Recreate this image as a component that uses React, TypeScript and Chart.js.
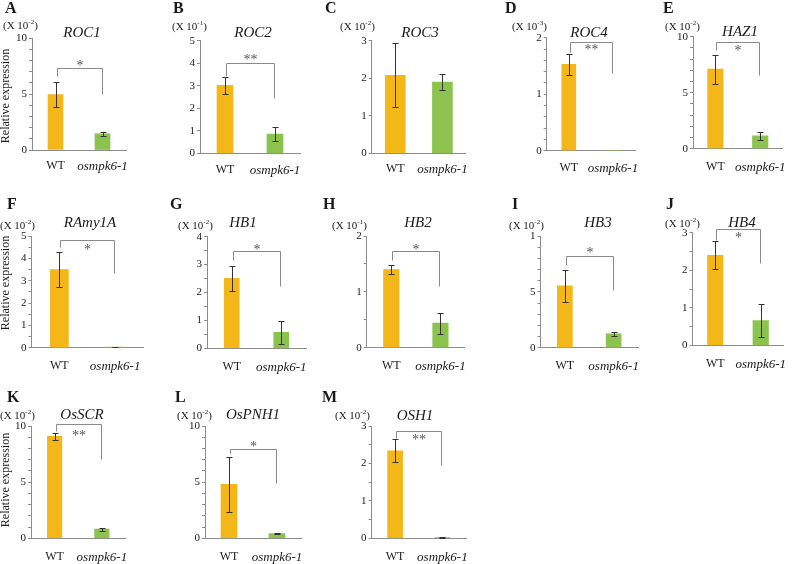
import React, { useEffect, useRef } from 'react';
import { Chart, registerables } from 'chart.js';

Chart.register(...registerables);

// ---------------- DATA ----------------
const categories = ['WT', 'osmpk6-1'];
const panelLetters = ['A', 'B', 'C', 'D', 'E', 'F', 'G', 'H', 'I', 'J', 'K', 'L', 'M'];
const geneNames = ['ROC1', 'ROC2', 'ROC3', 'ROC4', 'HAZ1', 'RAmy1A', 'HB1', 'HB2', 'HB3', 'HB4', 'OsSCR', 'OsPNH1', 'OSH1'];
const exponents = ['-2', '-1', '-2', '-3', '-2', '-2', '-2', '-1', '-2', '-2', '-2', '-2', '-2'];
const yMax = [10, 5, 3, 2, 10, 5, 4, 2, 10, 3, 10, 10, 3];
const majorStep = [5, 1, 1, 1, 5, 1, 1, 1, 5, 1, 5, 5, 1];
const minorStep = [1, 1, 1, 0.2, 1, 0.5, 0.5, 0.5, 1, 0.5, 1, 1, 0.5];
const topTickLabel = ['10', '5', '3', '2', '10', '5', '4', '2', '1', '3', '10', '10', '3'];
const wtMean = [4.95, 3.02, 2.08, 1.53, 7.1, 3.5, 2.51, 1.4, 5.55, 2.4, 9.07, 4.8, 2.34];
const wtErr = [1.15, 0.39, 0.85, 0.19, 1.3, 0.8, 0.45, 0.075, 1.45, 0.37, 0.33, 2.45, 0.31];
const mutMean = [1.45, 0.85, 1.9, 0, 1.15, 0.03, 0.57, 0.44, 1.25, 0.66, 0.81, 0.42, 0.02];
const mutErr = [0.17, 0.32, 0.21, 0, 0.37, 0.02, 0.42, 0.19, 0.18, 0.44, 0.15, 0.07, 0.02];
const significance = ['*', '**', '', '**', '*', '*', '*', '*', '*', '*', '**', '*', '**'];
const bracketTop = [7.32, 4.0, null, 1.93, 9.5, 4.82, 3.49, 1.73, 8.21, 3.09, 10.15, 7.93, 2.87];
const bracketLeftEnd = [6.61, 3.43, null, 1.75, 8.81, 4.52, 3.17, 1.57, 7.4, 2.81, 9.55, 7.62, 2.67];
const bracketRightEnd = [5.0, 2.44, null, 1.37, 6.58, 3.33, 2.23, 1.1, 5.17, 2.18, 7.03, 4.95, 1.97];
const yAxisTitle = 'Relative expression';
const showYTitle = [true, false, false, false, false, true, false, false, false, false, true, false, false];

// ---------------- LAYOUT (positions / sizes) ----------------
type L = {
  ax: number; top: number; bottom: number; right: number; barW: number; xPad: number;
  letter: [number, number]; exp: [number, number]; title: [number, number]; starDy: number; yTitle: [number, number];
};
const layout: L[] = [
  { ax: 32, top: 38, bottom: 150, right: 126, barW: 15, xPad: 9, letter: [5, 9], exp: [3, 26], title: [82, 33], starDy: -5, yTitle: [6, 96] },
  { ax: 200, top: 40.7, bottom: 153.3, right: 300, barW: 16, xPad: 9, letter: [173, 9], exp: [172, 27], title: [253, 33], starDy: -6, yTitle: [0, 0] },
  { ax: 371.7, top: 40.7, bottom: 153.3, right: 466, barW: 20, xPad: 8, letter: [325, 9], exp: [340, 27], title: [420, 33], starDy: 0, yTitle: [0, 0] },
  { ax: 546.7, top: 37.7, bottom: 150.7, right: 635, barW: 14, xPad: 10, letter: [505, 9], exp: [512, 27], title: [589, 33], starDy: 5, yTitle: [0, 0] },
  { ax: 693, top: 36.7, bottom: 148.7, right: 786, barW: 15.5, xPad: 11, letter: [663, 9], exp: [665, 27], title: [740, 32], starDy: 5.4, yTitle: [0, 0] },
  { ax: 31.5, top: 236, bottom: 347.7, right: 143, barW: 18, xPad: 11, letter: [7, 205], exp: [0, 226], title: [90, 223], starDy: 6.7, yTitle: [6, 283] },
  { ax: 207, top: 236.7, bottom: 348.3, right: 306, barW: 15, xPad: 11, letter: [170, 205], exp: [178, 226], title: [243, 223], starDy: -4.3, yTitle: [0, 0] },
  { ax: 366.7, top: 236, bottom: 347.7, right: 465, barW: 15.5, xPad: 11, letter: [323, 205], exp: [332, 226], title: [418, 223], starDy: -4.3, yTitle: [0, 0] },
  { ax: 540.5, top: 236, bottom: 347.7, right: 638, barW: 15, xPad: 11, letter: [512, 205], exp: [509, 226], title: [598, 223], starDy: -6, yTitle: [0, 0] },
  { ax: 692.5, top: 232.7, bottom: 345.3, right: 788, barW: 15.5, xPad: 11, letter: [666, 205], exp: [665, 224], title: [742, 223], starDy: 5.7, yTitle: [0, 0] },
  { ax: 31, top: 426, bottom: 538.3, right: 125.5, barW: 14.5, xPad: 11, letter: [7, 398], exp: [0, 416], title: [82, 415], starDy: 8.4, yTitle: [6, 480] },
  { ax: 205, top: 426, bottom: 538.3, right: 301, barW: 16, xPad: 11, letter: [175, 398], exp: [177, 416], title: [253, 415], starDy: -5, yTitle: [0, 0] },
  { ax: 371.5, top: 426, bottom: 538.3, right: 466, barW: 15, xPad: 11, letter: [322, 398], exp: [335, 416], title: [415, 416], starDy: 6, yTitle: [0, 0] },
];

const W = 800;
const H = 564;
const Y_W = 20;
const X_H = 30;
const SERIF = '"Liberation Serif", "Times New Roman", serif';
const WT_COLOR = '#F3B71A';
const MUT_COLOR = '#8CC34F';
const AXIS_COLOR = '#8c8c8c';
const ERR_COLOR = '#333333';
const BRACKET_COLOR = '#8a8a8a';
const TEXT_COLOR = '#1a1a1a';

function makeDecor(i: number) {
  return {
    id: 'panelDecor' + i,
    afterDatasetsDraw(chart: any) {
      const ctx = chart.ctx as CanvasRenderingContext2D;
      const xs = chart.scales.x;
      const ys = chart.scales.y;
      const lay = layout[i];
      ctx.save();
      // error bars
      const means = [wtMean[i], mutMean[i]];
      const errs = [wtErr[i], mutErr[i]];
      ctx.strokeStyle = ERR_COLOR;
      ctx.lineWidth = 1;
      for (let k = 0; k < 2; k++) {
        if (errs[k] <= 0) continue;
        const x = Math.round(xs.getPixelForValue(k)) + 0.5;
        const y1 = Math.round(ys.getPixelForValue(means[k] + errs[k])) + 0.5;
        const y2 = Math.round(ys.getPixelForValue(Math.max(0, means[k] - errs[k]))) + 0.5;
        ctx.beginPath();
        ctx.moveTo(x, y1); ctx.lineTo(x, y2);
        ctx.moveTo(x - 3, y1); ctx.lineTo(x + 3, y1);
        ctx.moveTo(x - 3, y2); ctx.lineTo(x + 3, y2);
        ctx.stroke();
      }
      // significance bracket
      const bt = bracketTop[i];
      if (bt !== null) {
        const xl = Math.round(xs.getPixelForValue(0)) + 1.5;
        const xr = Math.round(xs.getPixelForValue(1)) - 0.5;
        const yt = Math.round(ys.getPixelForValue(bt)) + 0.5;
        const yl = Math.round(ys.getPixelForValue(bracketLeftEnd[i] as number)) + 0.5;
        const yr = Math.round(ys.getPixelForValue(bracketRightEnd[i] as number)) + 0.5;
        ctx.strokeStyle = BRACKET_COLOR;
        ctx.beginPath();
        ctx.moveTo(xl, yl); ctx.lineTo(xl, yt); ctx.lineTo(xr, yt); ctx.lineTo(xr, yr);
        ctx.stroke();
        ctx.fillStyle = '#555';
        ctx.font = `14px ${SERIF}`;
        ctx.textAlign = 'center';
        ctx.textBaseline = 'alphabetic';
        ctx.fillText(significance[i], (xl + xr) / 2, yt + lay.starDy + 6.6);
      }
      // panel letter
      ctx.fillStyle = TEXT_COLOR;
      ctx.font = `bold 16px ${SERIF}`;
      ctx.textAlign = 'left';
      ctx.textBaseline = 'middle';
      ctx.fillText(panelLetters[i], lay.letter[0], lay.letter[1]);
      // exponent label "(X 10^-n)"
      ctx.font = `11px ${SERIF}`;
      ctx.textAlign = 'left';
      ctx.textBaseline = 'middle';
      let ex = lay.exp[0];
      const ey = lay.exp[1];
      const part1 = '(X 10';
      ctx.fillText(part1, ex, ey);
      ex += ctx.measureText(part1).width;
      ctx.font = `7px ${SERIF}`;
      ctx.fillText(exponents[i], ex, ey - 3.5);
      ex += ctx.measureText(exponents[i]).width;
      ctx.font = `11px ${SERIF}`;
      ctx.fillText(')', ex, ey);
      // gene title
      ctx.font = `italic 15px ${SERIF}`;
      ctx.textAlign = 'center';
      ctx.fillText(geneNames[i], lay.title[0], lay.title[1]);
      // y axis title
      if (showYTitle[i]) {
        ctx.save();
        ctx.translate(lay.yTitle[0], lay.yTitle[1]);
        ctx.rotate(-Math.PI / 2);
        ctx.font = `12px ${SERIF}`;
        ctx.textAlign = 'center';
        ctx.textBaseline = 'middle';
        ctx.fillText(yAxisTitle, 0, 0);
        ctx.restore();
      }
      ctx.restore();
    },
  };
}

function isMultiple(v: number, step: number) {
  const r = v / step;
  return Math.abs(r - Math.round(r)) < 1e-6;
}

function Panel({ i }: { i: number }) {
  const ref = useRef<HTMLCanvasElement>(null);
  useEffect(() => {
    const lay = layout[i];
    const chart = new Chart(ref.current as HTMLCanvasElement, {
      type: 'bar',
      data: {
        labels: categories,
        datasets: [
          {
            data: [wtMean[i], mutMean[i]],
            backgroundColor: [WT_COLOR, MUT_COLOR],
            borderWidth: 0,
            barThickness: lay.barW,
          },
        ],
      },
      options: {
        responsive: false,
        animation: false,
        events: [],
        layout: {
          autoPadding: false,
          padding: {
            left: lay.ax - Y_W,
            top: lay.top,
            right: W - lay.right,
            bottom: H - lay.bottom - X_H,
          },
        },
        plugins: {
          legend: { display: false },
          tooltip: { enabled: false },
        },
        scales: {
          x: {
            type: 'category',
            offset: true,
            grid: { display: true, drawOnChartArea: false, drawTicks: false, color: AXIS_COLOR },
            border: { display: true, color: AXIS_COLOR, width: 1 },
            ticks: {
              padding: lay.xPad,
              color: TEXT_COLOR,
              maxRotation: 0,
              autoSkip: false,
              font: (c: any) =>
                c.index === 1
                  ? { family: SERIF, size: 13, style: 'italic' }
                  : { family: SERIF, size: 12 },
            },
            afterFit: (s: any) => { s.height = X_H; },
          },
          y: {
            min: 0,
            max: yMax[i],
            grid: { display: true, drawOnChartArea: false, drawTicks: true, tickLength: 3, color: AXIS_COLOR },
            border: { display: true, color: AXIS_COLOR, width: 1 },
            ticks: {
              stepSize: minorStep[i],
              autoSkip: false,
              padding: 2,
              color: TEXT_COLOR,
              font: { family: SERIF, size: 11 },
              callback: (v: any) => {
                const val = Number(v);
                if (!isMultiple(val, majorStep[i])) return '';
                if (Math.abs(val - yMax[i]) < 1e-6) return topTickLabel[i];
                return String(Math.round(val));
              },
            },
            afterFit: (s: any) => { s.width = Y_W; },
          },
        },
      },
      plugins: [makeDecor(i)],
    } as any);
    return () => chart.destroy();
  }, [i]);
  return (
    <canvas
      ref={ref}
      width={W}
      height={H}
      style={{ position: 'absolute', left: 0, top: 0, width: W, height: H }}
    />
  );
}

export default function App() {
  return (
    <div style={{ position: 'fixed', left: 0, top: 0, width: W, height: H, background: '#fff', overflow: 'hidden' }}>
      {panelLetters.map((_, i) => (
        <Panel key={i} i={i} />
      ))}
    </div>
  );
}
